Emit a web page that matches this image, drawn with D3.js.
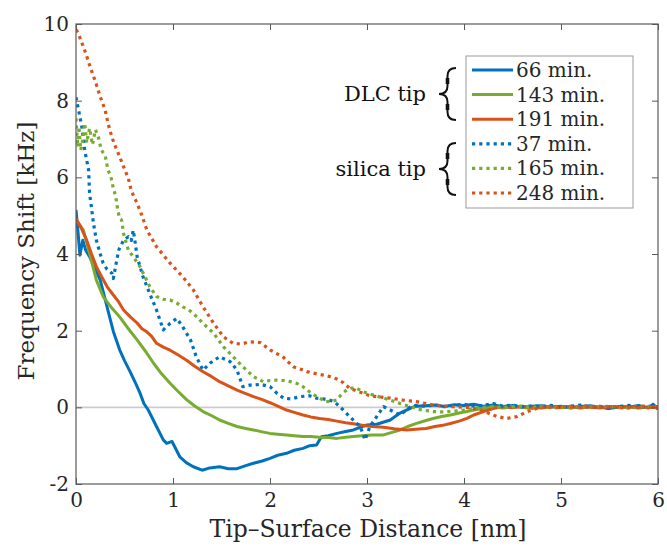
<!DOCTYPE html>
<html><head><meta charset="utf-8">
<script src="https://cdn.jsdelivr.net/npm/d3@7"></script>
<style>body{margin:0;background:#fff}svg{display:block}</style>
</head><body><svg id="c" width="667" height="549"></svg>
<script>
const xTicks = [0,1,2,3,4,5,6];
const yTicks = [-2,0,2,4,6,8,10];
const xLabel = "Tip–Surface Distance [nm]";
const yLabel = "Frequency Shift [kHz]";
const seriesNames = ["66 min.","143 min.","191 min.","37 min.","165 min.","248 min."];
const seriesColors = ["#0072BD","#77AC30","#D95319","#0072BD","#77AC30","#D95319"];
const seriesDotted = [false,false,false,true,true,true];
const groupLabels = ["DLC tip","silica tip"];

const dlc66 = [[0,5.15],[0.02,4.6],[0.04,3.97],[0.07,4.36],[0.1,4.1],[0.14,3.93],[0.2,3.6],[0.25,3.32],[0.32,2.62],[0.385,1.98],[0.45,1.5],[0.5,1.22],[0.56,0.92],[0.62,0.6],[0.66,0.37],[0.7,0.1],[0.745,-0.07],[0.83,-0.5],[0.9,-0.85],[0.935,-0.94],[0.99,-0.89],[1.07,-1.29],[1.14,-1.45],[1.21,-1.55],[1.3,-1.64],[1.38,-1.58],[1.48,-1.55],[1.57,-1.6],[1.66,-1.6],[1.75,-1.52],[1.83,-1.46],[1.92,-1.4],[2.0,-1.33],[2.08,-1.25],[2.17,-1.2],[2.25,-1.12],[2.34,-1.07],[2.41,-1.0],[2.48,-0.98],[2.53,-0.77],[2.6,-0.74],[2.69,-0.68],[2.78,-0.63],[2.86,-0.59],[2.95,-0.5],[3.0,-0.46],[3.1,-0.44],[3.24,-0.33],[3.34,-0.15],[3.4,-0.08],[3.5,0.03],[3.6,0.04],[3.7,0.06],[3.8,0.02],[3.9,0.07],[4.0,0.05],[4.1,0.08],[4.2,0.03],[4.3,0.06],[4.4,0.02],[4.5,0.05],[4.6,0.0],[4.7,0.03],[4.8,0.04],[4.9,0.01],[5.0,0.03],[5.1,-0.02],[5.2,0.02],[5.3,0.04],[5.4,0.0],[5.5,-0.03],[5.6,0.02],[5.7,0.0],[5.8,0.05],[5.9,-0.02],[5.95,0.08],[6.0,-0.05]];
const dlc143 = [[0,4.89],[0.075,4.63],[0.14,4.02],[0.21,3.32],[0.28,2.89],[0.36,2.62],[0.45,2.36],[0.54,2.05],[0.63,1.76],[0.72,1.45],[0.8,1.15],[0.88,0.88],[0.97,0.63],[1.05,0.42],[1.14,0.2],[1.22,0.04],[1.31,-0.11],[1.4,-0.22],[1.48,-0.33],[1.57,-0.42],[1.66,-0.5],[1.75,-0.55],[1.83,-0.59],[1.92,-0.64],[2.0,-0.68],[2.08,-0.7],[2.17,-0.72],[2.25,-0.74],[2.34,-0.76],[2.42,-0.76],[2.51,-0.78],[2.6,-0.79],[2.69,-0.81],[2.78,-0.78],[2.86,-0.76],[2.95,-0.74],[3.05,-0.72],[3.17,-0.72],[3.25,-0.66],[3.34,-0.59],[3.42,-0.5],[3.51,-0.42],[3.6,-0.35],[3.68,-0.29],[3.77,-0.24],[3.86,-0.2],[3.95,-0.15],[4.03,-0.11],[4.1,-0.07],[4.2,-0.03],[4.3,0.01],[4.4,-0.02],[4.5,0.02],[4.6,0.0],[4.7,-0.03],[4.8,0.01],[4.9,0.02],[5.0,-0.01],[5.1,0.01],[5.2,-0.02],[5.3,0.02],[5.4,0.0],[5.5,0.02],[5.6,-0.01],[5.7,0.01],[5.8,-0.02],[5.9,0.01],[6.0,0.0]];
const dlc191 = [[0,4.93],[0.05,4.7],[0.11,4.36],[0.16,4.0],[0.21,3.67],[0.27,3.38],[0.32,3.15],[0.385,2.93],[0.44,2.75],[0.49,2.54],[0.56,2.36],[0.63,2.2],[0.68,2.05],[0.73,1.97],[0.78,1.85],[0.83,1.67],[0.9,1.57],[0.97,1.49],[1.05,1.37],[1.14,1.23],[1.22,1.08],[1.31,0.93],[1.4,0.8],[1.48,0.67],[1.57,0.56],[1.66,0.45],[1.75,0.36],[1.83,0.28],[1.92,0.2],[2.0,0.12],[2.08,0.03],[2.17,-0.07],[2.25,-0.13],[2.34,-0.2],[2.42,-0.25],[2.51,-0.29],[2.6,-0.32],[2.69,-0.36],[2.78,-0.4],[2.86,-0.43],[2.95,-0.47],[3.05,-0.5],[3.17,-0.52],[3.28,-0.56],[3.41,-0.59],[3.5,-0.57],[3.61,-0.55],[3.7,-0.5],[3.78,-0.47],[3.86,-0.42],[3.95,-0.36],[4.03,-0.29],[4.1,-0.2],[4.2,-0.11],[4.3,-0.03],[4.4,0.02],[4.5,-0.01],[4.6,0.03],[4.7,0.0],[4.8,-0.02],[4.9,0.02],[5.0,0.0],[5.1,0.03],[5.2,-0.01],[5.3,0.01],[5.4,-0.02],[5.5,0.02],[5.6,0.0],[5.7,0.02],[5.8,-0.01],[5.9,0.01],[6.0,-0.02]];
const sil37 = [[0,8.09],[0.03,7.71],[0.06,7.32],[0.09,6.71],[0.13,6.19],[0.14,5.58],[0.16,5.2],[0.18,4.8],[0.21,4.36],[0.25,4.0],[0.28,3.76],[0.32,3.6],[0.37,3.5],[0.385,3.36],[0.41,3.7],[0.44,4.1],[0.49,4.36],[0.54,4.45],[0.57,4.35],[0.59,4.62],[0.61,4.3],[0.63,3.93],[0.69,3.41],[0.76,2.97],[0.83,2.54],[0.9,2.02],[0.97,2.19],[1.04,2.32],[1.1,2.1],[1.18,1.76],[1.24,1.32],[1.31,0.97],[1.38,1.15],[1.48,1.32],[1.54,1.25],[1.59,1.19],[1.66,0.97],[1.72,0.54],[1.79,0.58],[1.83,0.58],[1.9,0.6],[2.0,0.54],[2.07,0.37],[2.14,0.24],[2.22,0.22],[2.31,0.28],[2.41,0.3],[2.48,0.24],[2.55,0.22],[2.61,0.19],[2.66,0.15],[2.72,0.02],[2.82,-0.24],[2.93,-0.5],[2.98,-0.85],[3.03,-0.5],[3.1,-0.24],[3.17,0.02],[3.24,-0.07],[3.34,-0.2],[3.44,0.0],[3.5,0.05],[3.6,0.03],[3.7,0.06],[3.8,0.02],[3.9,0.05],[4.0,0.08],[4.1,0.03],[4.2,0.05],[4.3,0.1],[4.4,0.03],[4.5,0.06],[4.6,0.01],[4.7,0.04],[4.8,0.02],[4.9,0.05],[5.0,-0.01],[5.1,0.03],[5.2,0.06],[5.3,0.0],[5.4,0.03],[5.5,-0.04],[5.6,0.02],[5.7,0.05],[5.8,0.0],[5.9,0.03],[6.0,0.02]];
const sil165 = [[0,7.54],[0.01,7.1],[0.02,6.8],[0.03,7.32],[0.04,6.97],[0.05,6.71],[0.07,7.0],[0.09,7.41],[0.11,6.9],[0.14,7.28],[0.17,6.85],[0.2,7.24],[0.23,7.06],[0.26,6.71],[0.3,6.58],[0.33,6.19],[0.36,6.02],[0.385,5.71],[0.41,5.5],[0.43,5.15],[0.45,4.93],[0.47,4.89],[0.49,4.54],[0.54,4.1],[0.59,3.93],[0.66,3.67],[0.76,3.15],[0.83,2.89],[0.9,2.82],[0.97,2.8],[1.04,2.72],[1.1,2.62],[1.16,2.55],[1.21,2.45],[1.31,2.19],[1.42,1.93],[1.52,1.58],[1.62,1.32],[1.72,1.06],[1.83,0.8],[1.93,0.67],[2.0,0.7],[2.07,0.71],[2.14,0.7],[2.21,0.67],[2.28,0.62],[2.34,0.54],[2.41,0.4],[2.48,0.28],[2.58,0.15],[2.64,0.16],[2.69,0.19],[2.74,0.35],[2.79,0.45],[2.84,0.5],[2.89,0.5],[2.95,0.42],[3.0,0.37],[3.12,0.28],[3.24,0.19],[3.34,0.1],[3.44,0.02],[3.55,-0.06],[3.68,-0.11],[3.78,-0.12],[3.9,-0.1],[4.03,-0.07],[4.12,-0.03],[4.2,0.0],[4.3,0.02],[4.4,-0.01],[4.5,0.01],[4.6,0.03],[4.7,0.0],[4.8,0.02],[4.9,-0.02],[5.0,0.01],[5.1,0.0],[5.2,0.02],[5.3,-0.01],[5.4,0.01],[5.5,0.03],[5.6,0.0],[5.7,-0.02],[5.8,0.01],[5.9,0.02],[6.0,0.0]];
const sil248 = [[0,9.85],[0.02,9.78],[0.05,9.58],[0.075,9.41],[0.1,9.24],[0.15,8.85],[0.2,8.5],[0.25,8.1],[0.3,7.76],[0.33,7.41],[0.37,7.05],[0.4,6.84],[0.45,6.54],[0.49,6.28],[0.54,5.97],[0.57,5.65],[0.63,5.32],[0.68,5.0],[0.73,4.63],[0.83,4.19],[0.97,3.76],[1.1,3.41],[1.21,3.06],[1.31,2.62],[1.42,2.19],[1.52,1.84],[1.62,1.67],[1.7,1.65],[1.79,1.71],[1.9,1.69],[2.0,1.5],[2.07,1.4],[2.14,1.3],[2.24,1.06],[2.31,1.0],[2.38,0.93],[2.47,0.88],[2.55,0.84],[2.62,0.8],[2.69,0.74],[2.76,0.64],[2.82,0.5],[2.89,0.43],[2.96,0.37],[3.03,0.3],[3.1,0.28],[3.24,0.24],[3.37,0.19],[3.51,0.15],[3.68,0.06],[3.86,0.02],[4.03,0.0],[4.15,-0.05],[4.25,-0.15],[4.34,-0.24],[4.44,-0.29],[4.55,-0.24],[4.65,-0.11],[4.75,-0.03],[4.85,0.02],[4.95,-0.01],[5.05,0.02],[5.15,0.0],[5.25,0.03],[5.35,-0.01],[5.45,0.01],[5.55,0.02],[5.65,-0.02],[5.75,0.01],[5.85,0.03],[5.95,-0.01],[6.0,0.01]];

const allSeries = [dlc66, dlc143, dlc191, sil37, sil165, sil248];

const FONT = "'DejaVu Serif', serif";
const TXT = "#262626";
const svg = d3.select("#c");
const L = 76, R = 658, T = 24, B = 484;
const x = d3.scaleLinear().domain([0,6]).range([L,R]);
const y = d3.scaleLinear().domain([-2,10]).range([B,T]);

svg.append("clipPath").attr("id","clip").append("rect")
  .attr("x",L).attr("y",T).attr("width",R-L).attr("height",B-T);

svg.append("line").attr("x1",L).attr("x2",R).attr("y1",y(0)).attr("y2",y(0))
  .attr("stroke","#cccccc").attr("stroke-width",1.6);

const line = d3.line().x(d=>x(d[0])).y(d=>y(d[1]));
const gLines = svg.append("g").attr("clip-path","url(#clip)");
allSeries.forEach((s,i)=>{
  gLines.append("path").datum(s).attr("d",line).attr("fill","none")
    .attr("stroke",seriesColors[i]).attr("stroke-width",seriesDotted[i]?3.2:3)
    .attr("stroke-linejoin","round")
    .attr("stroke-dasharray",seriesDotted[i]?"3.2 4":null);
});

const axColor = "#5a5a5a";
function styleAxis(g, showLabels){
  g.select(".domain").remove();
  g.selectAll(".tick line").attr("stroke",axColor).attr("stroke-width",1);
  g.selectAll(".tick text").attr("fill",TXT).style("font-family",FONT).style("font-size","20px");
  if(!showLabels) g.selectAll(".tick text").remove();
}
styleAxis(svg.append("g").attr("transform",`translate(0,${B})`)
  .call(d3.axisBottom(x).tickValues(xTicks).tickSize(-6).tickPadding(9).tickFormat(d3.format("d"))), true);
styleAxis(svg.append("g").attr("transform",`translate(0,${T})`)
  .call(d3.axisTop(x).tickValues(xTicks).tickSize(-6)), false);
styleAxis(svg.append("g").attr("transform",`translate(${L},0)`)
  .call(d3.axisLeft(y).tickValues(yTicks).tickSize(-6).tickPadding(7).tickFormat(d=>d<0?"-"+(-d):String(d))), true);
styleAxis(svg.append("g").attr("transform",`translate(${R},0)`)
  .call(d3.axisRight(y).tickValues(yTicks).tickSize(-6)), false);

svg.append("rect").attr("x",L).attr("y",T).attr("width",R-L).attr("height",B-T)
  .attr("fill","none").attr("stroke",axColor).attr("stroke-width",1.2);

svg.append("text").attr("x",(L+R)/2+1).attr("y",537).attr("text-anchor","middle")
  .style("font-family",FONT).style("font-size","23.5px").attr("fill",TXT).text(xLabel);
svg.append("text").attr("transform",`translate(34,${(T+B)/2 - 3}) rotate(-90)`).attr("text-anchor","middle")
  .style("font-family",FONT).style("font-size","23px").attr("fill",TXT).text(yLabel);

const lg = {x:466, y:56, w:167, h:152, row:24.6, first:70};
svg.append("rect").attr("x",lg.x).attr("y",lg.y).attr("width",lg.w).attr("height",lg.h)
  .attr("fill","#fff").attr("stroke","#9a9a9a").attr("stroke-width",1);
seriesNames.forEach((n,i)=>{
  const cy = lg.first + i*lg.row;
  svg.append("line").attr("x1",472).attr("x2",513).attr("y1",cy).attr("y2",cy)
    .attr("stroke",seriesColors[i]).attr("stroke-width",seriesDotted[i]?3.2:3)
    .attr("stroke-dasharray",seriesDotted[i]?"3.2 4":null);
  svg.append("text").attr("x",516).attr("y",cy+7).style("font-family",FONT)
    .style("font-size","20px").attr("fill",TXT).text(n);
});

function brace(xl, xr, y0, y1){
  const xm=(xl+xr)/2, ym=(y0+y1)/2, r=8;
  return `M${xr},${y0} Q${xm},${y0} ${xm},${y0+r} L${xm},${ym-r} Q${xm},${ym} ${xl},${ym} Q${xm},${ym} ${xm},${ym+r} L${xm},${y1-r} Q${xm},${y1} ${xr},${y1}`;
}
[[68,120],[143,195]].forEach((b,i)=>{
  const xl=439, xr=456, xm=(xl+xr)/2, ym=(b[0]+b[1])/2;
  svg.append("path").attr("d",brace(xl,xr,b[0],b[1])).attr("fill","none")
    .attr("stroke","#111").attr("stroke-width",2);
  svg.append("line").attr("x1",xm).attr("x2",xm).attr("y1",b[0]+10).attr("y2",ym-10)
    .attr("stroke","#111").attr("stroke-width",3.6);
  svg.append("line").attr("x1",xm).attr("x2",xm).attr("y1",ym+10).attr("y2",b[1]-10)
    .attr("stroke","#111").attr("stroke-width",3.6);
  svg.append("text").attr("x",426).attr("y",ym+7).attr("text-anchor","end")
    .style("font-family",FONT).style("font-size","21px").attr("fill","#111").text(groupLabels[i]);
});
</script></body></html>
